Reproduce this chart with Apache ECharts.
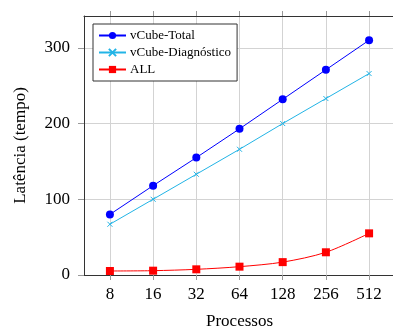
<!DOCTYPE html>
<html>
<head>
<meta charset="utf-8">
<script src="https://cdn.jsdelivr.net/npm/echarts@6/dist/echarts.min.js"></script>
<style>
html,body{margin:0;padding:0;background:#fff;}
#c{width:393px;height:329px;}
</style>
</head>
<body>
<div id="c"></div>
<script>
const categories = ['8', '16', '32', '64', '128', '256', '512'];
const vcubeTotal = [80, 118, 155, 193, 232, 271, 310];
const vcubeDiag = [67, 100, 133, 166, 200, 233, 266];
const allValues = [5.3, 5.7, 7.5, 11, 17, 30, 55];
const yTicks = [0, 100, 200, 300];

const FONT = 'Liberation Serif';
const idx = categories.map((_, i) => i);
const toPairs = arr => arr.map((v, i) => [i, v]);

const chart = echarts.init(document.getElementById('c'), null, {renderer: 'canvas'});
chart.setOption({
  animation: false,
  backgroundColor: '#fff',
  textStyle: {fontFamily: FONT},
  grid: {left: 84, right: -2, top: 16, bottom: 54, containLabel: false, outerBoundsMode: 'none'},
  legend: {
    orient: 'vertical',
    left: 93, top: 24,
    padding: [5, 6, 5, 5],
    itemGap: 4,
    itemWidth: 27,
    itemHeight: 9,
    backgroundColor: '#fff',
    borderColor: '#333',
    borderWidth: 1,
    textStyle: {fontFamily: FONT, fontSize: 13, color: '#000', padding: [0, 0, 0, -1]},
    data: ['vCube-Total', 'vCube-Diagnóstico', 'ALL']
  },
  xAxis: [{
    type: 'value',
    min: -0.6, max: 6.6,
    name: 'Processos',
    nameLocation: 'middle',
    nameGap: 38,
    nameTextStyle: {fontFamily: FONT, fontSize: 17, color: '#000'},
    axisLine: {show: true, onZero: false, lineStyle: {color: '#333', width: 1}},
    axisTick: {show: true, inside: false, length: 5, customValues: idx, lineStyle: {color: '#999'}},
    axisLabel: {
      customValues: idx,
      margin: 11,
      fontFamily: FONT, fontSize: 17, color: '#000',
      formatter: v => categories[Math.round(v)]
    },
    splitLine: {show: true, lineStyle: {color: '#d3d3d3', width: 1}}
  }, {
    type: 'value',
    position: 'top',
    min: -0.6, max: 6.6,
    axisLine: {show: true, onZero: false, lineStyle: {color: '#333', width: 1}},
    axisTick: {show: true, inside: false, length: 5, customValues: idx, lineStyle: {color: '#999'}},
    axisLabel: {show: false},
    splitLine: {show: false}
  }],
  yAxis: {
    type: 'value',
    min: 0, max: 342,
    name: 'Latência (tempo)',
    nameLocation: 'middle',
    nameGap: 55,
    nameTextStyle: {fontFamily: FONT, fontSize: 17, color: '#000'},
    axisLine: {show: true, onZero: false, lineStyle: {color: '#333', width: 1}},
    axisTick: {show: true, inside: false, length: 6, customValues: yTicks, lineStyle: {color: '#999'}},
    axisLabel: {customValues: yTicks, margin: 14, fontFamily: FONT, fontSize: 17, color: '#000'},
    splitLine: {show: true, lineStyle: {color: '#d3d3d3', width: 1}}
  },
  series: [{
    name: 'vCube-Total',
    type: 'line',
    data: toPairs(vcubeTotal),
    symbol: 'circle',
    symbolSize: 8,
    itemStyle: {color: '#0000ff'},
    lineStyle: {color: '#0000ff', width: 1}
  }, {
    name: 'vCube-Diagnóstico',
    type: 'line',
    data: toPairs(vcubeDiag),
    symbol: 'path://M0,0L10,10M10,0L0,10',
    symbolSize: 5,
    itemStyle: {color: '#22b4e6', borderColor: '#22b4e6', borderWidth: 1},
    lineStyle: {color: '#22b4e6', width: 1}
  }, {
    name: 'ALL',
    type: 'line',
    data: toPairs(allValues),
    smooth: 0.3,
    symbol: 'rect',
    symbolSize: 8,
    itemStyle: {color: '#ff0000'},
    lineStyle: {color: '#ff0000', width: 1}
  }]
});
</script>
</body>
</html>
